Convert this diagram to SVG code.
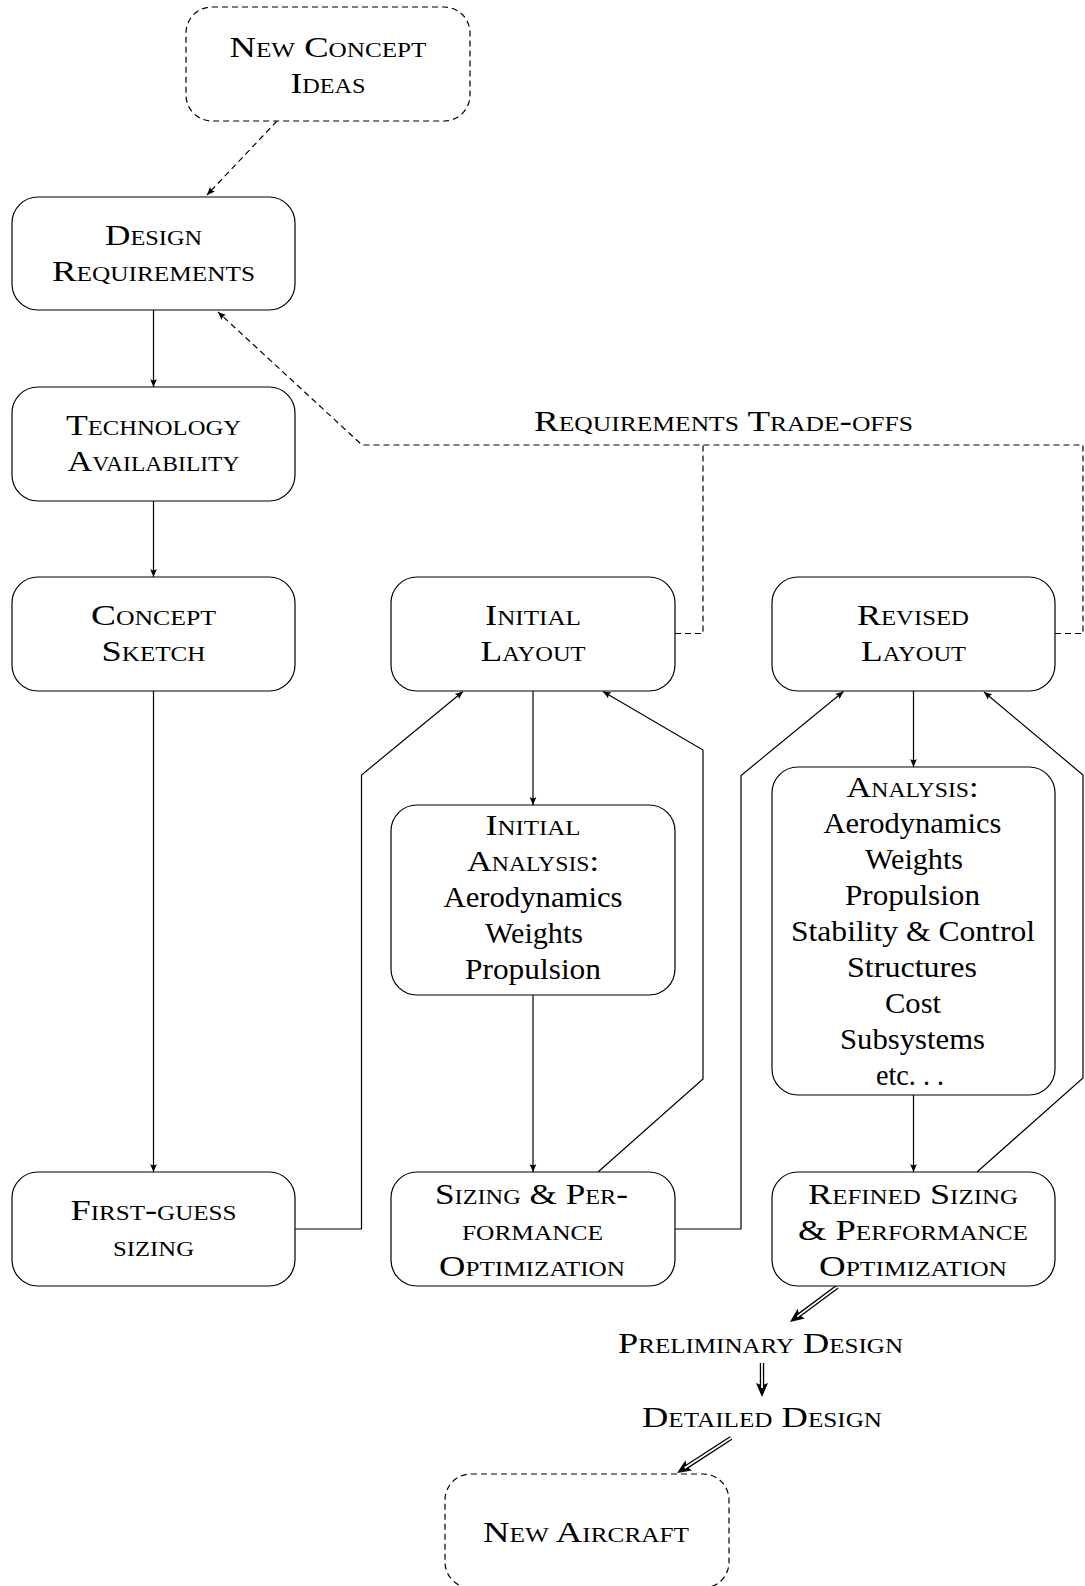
<svg xmlns="http://www.w3.org/2000/svg" width="1085" height="1586" viewBox="0 0 1085 1586">
  <style>
    .box { fill: #fff; stroke: #000; stroke-width: 1.2; }
    .dbox { fill: #fff; stroke: #000; stroke-width: 1.2; stroke-dasharray: 6 4; }
    .sc { font-family: 'Liberation Serif', serif; font-size: 29px; font-variant: small-caps; text-anchor: middle; fill: #000; }
    .rm { font-family: 'Liberation Serif', serif; font-size: 29px; text-anchor: middle; fill: #000; }
    .edge { fill: none; stroke: #000; stroke-width: 1.2; }
    .dash { fill: none; stroke: #000; stroke-width: 1.2; stroke-dasharray: 6 4; }
    .dbl-o { fill: none; stroke: #000; stroke-width: 4.4; }
    .dbl-i { fill: none; stroke: #fff; stroke-width: 1.8; }
  </style>
  <defs>
    <marker id="arr" markerUnits="userSpaceOnUse" viewBox="-9 -5 10 10" refX="0" refY="0" markerWidth="10" markerHeight="10" orient="auto">
      <path d="M0,0 L-8,-3.4 Q-5.5,0 -8,3.4 Z" fill="#000"/>
    </marker>
    <marker id="big" markerUnits="userSpaceOnUse" viewBox="-6 -7 16 14" refX="0" refY="0" markerWidth="16" markerHeight="14" orient="auto">
      <path d="M9,0 L-5,-6 Q-1.5,0 -5,6 Z" fill="#000"/>
    </marker>
  </defs>

  <rect width="1085" height="1586" fill="#fff"/>

  <!-- connectors -->
  <g id="connectors">
    <path class="dash" d="M277,121 L207,195" marker-end="url(#arr)"/>
    <path class="edge" d="M153.5,310 V387" marker-end="url(#arr)"/>
    <path class="edge" d="M153.5,501 V577" marker-end="url(#arr)"/>
    <path class="edge" d="M153.5,691 V1172" marker-end="url(#arr)"/>
    <path class="edge" d="M295,1229 H361.5 V775 L463,691.5" marker-end="url(#arr)"/>
    <path class="edge" d="M533,691 V805" marker-end="url(#arr)"/>
    <path class="edge" d="M533,995 V1172" marker-end="url(#arr)"/>
    <path class="edge" d="M598,1172 L703,1079 V750 L603,691.5" marker-end="url(#arr)"/>
    <path class="edge" d="M675,1229 H741 V775.5 L843.5,691.5" marker-end="url(#arr)"/>
    <path class="edge" d="M913.5,691 V767" marker-end="url(#arr)"/>
    <path class="edge" d="M913.5,1095 V1172" marker-end="url(#arr)"/>
    <path class="edge" d="M977,1172 L1083,1078 V775 L984,692" marker-end="url(#arr)"/>
    <!-- requirements trade-off feedback -->
    <path class="dash" d="M675,633.5 H703 V445 M1055,633.5 H1083 V445 H362 L218,312" marker-end="url(#arr)"/>
    <!-- double arrows toward the final design -->
    <path class="dbl-o" d="M837,1287 L797.2,1316.6" marker-end="url(#big)"/>
    <path class="dbl-i" d="M837,1287 L797.2,1316.6"/>
    <path class="dbl-o" d="M762,1363 V1388" marker-end="url(#big)"/>
    <path class="dbl-i" d="M762,1363 V1388"/>
    <path class="dbl-o" d="M731,1438 L684.6,1468.1" marker-end="url(#big)"/>
    <path class="dbl-i" d="M731,1438 L684.6,1468.1"/>
    <text class="sc" x="723.5" y="431" textLength="379" lengthAdjust="spacingAndGlyphs">Requirements Trade-offs</text>
  </g>

  <g id="new-concept-ideas">
    <rect class="dbox" x="186" y="7" width="284" height="114" rx="26"/>
    <text class="sc" x="328" y="57" textLength="197" lengthAdjust="spacingAndGlyphs">New Concept</text>
    <text class="sc" x="328" y="93" textLength="75" lengthAdjust="spacingAndGlyphs">Ideas</text>
  </g>

  <g id="design-requirements">
    <rect class="box" x="12" y="197" width="283" height="113" rx="26"/>
    <text class="sc" x="153.5" y="244.5" textLength="97" lengthAdjust="spacingAndGlyphs">Design</text>
    <text class="sc" x="153.5" y="280.5" textLength="203" lengthAdjust="spacingAndGlyphs">Requirements</text>
  </g>

  <g id="technology-availability">
    <rect class="box" x="12" y="387" width="283" height="114" rx="26"/>
    <text class="sc" x="153.5" y="435" textLength="175" lengthAdjust="spacingAndGlyphs">Technology</text>
    <text class="sc" x="153.5" y="471" textLength="172" lengthAdjust="spacingAndGlyphs">Availability</text>
  </g>

  <g id="concept-sketch">
    <rect class="box" x="12" y="577" width="283" height="114" rx="26"/>
    <text class="sc" x="153.5" y="625" textLength="125" lengthAdjust="spacingAndGlyphs">Concept</text>
    <text class="sc" x="153.5" y="661" textLength="104" lengthAdjust="spacingAndGlyphs">Sketch</text>
  </g>

  <g id="first-guess-sizing">
    <rect class="box" x="12" y="1172" width="283" height="114" rx="26"/>
    <text class="sc" x="153.5" y="1220" textLength="166" lengthAdjust="spacingAndGlyphs">First-guess</text>
    <text class="sc" x="153.5" y="1256" textLength="81" lengthAdjust="spacingAndGlyphs">sizing</text>
  </g>

  <g id="initial-layout">
    <rect class="box" x="391" y="577" width="284" height="114" rx="26"/>
    <text class="sc" x="533" y="625" textLength="96" lengthAdjust="spacingAndGlyphs">Initial</text>
    <text class="sc" x="533" y="661" textLength="105" lengthAdjust="spacingAndGlyphs">Layout</text>
  </g>

  <g id="initial-analysis">
    <rect class="box" x="391" y="805" width="284" height="190" rx="26"/>
    <text class="sc" x="533" y="835" textLength="95" lengthAdjust="spacingAndGlyphs">Initial</text>
    <text class="sc" x="533" y="871" textLength="132" lengthAdjust="spacingAndGlyphs">Analysis:</text>
    <text class="rm" x="533" y="907" textLength="179" lengthAdjust="spacingAndGlyphs">Aerodynamics</text>
    <text class="rm" x="534" y="943" textLength="98" lengthAdjust="spacingAndGlyphs">Weights</text>
    <text class="rm" x="533" y="979" textLength="136" lengthAdjust="spacingAndGlyphs">Propulsion</text>
  </g>

  <g id="sizing-performance">
    <rect class="box" x="391" y="1172" width="284" height="114" rx="26"/>
    <text class="sc" x="531.5" y="1204" textLength="193" lengthAdjust="spacingAndGlyphs">Sizing &amp; Per-</text>
    <text class="sc" x="532.5" y="1240" textLength="141" lengthAdjust="spacingAndGlyphs">formance</text>
    <text class="sc" x="532" y="1276" textLength="186" lengthAdjust="spacingAndGlyphs">Optimization</text>
  </g>

  <g id="revised-layout">
    <rect class="box" x="772" y="577" width="283" height="114" rx="26"/>
    <text class="sc" x="913" y="625" textLength="112" lengthAdjust="spacingAndGlyphs">Revised</text>
    <text class="sc" x="913.5" y="661" textLength="105" lengthAdjust="spacingAndGlyphs">Layout</text>
  </g>

  <g id="revised-analysis">
    <rect class="box" x="772" y="767" width="283" height="328" rx="26"/>
    <text class="sc" x="912.5" y="797" textLength="132" lengthAdjust="spacingAndGlyphs">Analysis:</text>
    <text class="rm" x="912.5" y="833" textLength="178" lengthAdjust="spacingAndGlyphs">Aerodynamics</text>
    <text class="rm" x="914" y="869" textLength="98" lengthAdjust="spacingAndGlyphs">Weights</text>
    <text class="rm" x="912.5" y="905" textLength="135" lengthAdjust="spacingAndGlyphs">Propulsion</text>
    <text class="rm" x="913" y="941" textLength="244" lengthAdjust="spacingAndGlyphs">Stability &amp; Control</text>
    <text class="rm" x="912" y="977" textLength="130" lengthAdjust="spacingAndGlyphs">Structures</text>
    <text class="rm" x="913" y="1013" textLength="56" lengthAdjust="spacingAndGlyphs">Cost</text>
    <text class="rm" x="912.5" y="1049" textLength="145" lengthAdjust="spacingAndGlyphs">Subsystems</text>
    <text class="rm" x="910" y="1085" textLength="68" lengthAdjust="spacingAndGlyphs">etc. . .</text>
  </g>

  <g id="refined-sizing">
    <rect class="box" x="772" y="1172" width="283" height="114" rx="26"/>
    <text class="sc" x="913" y="1204" textLength="210" lengthAdjust="spacingAndGlyphs">Refined Sizing</text>
    <text class="sc" x="913" y="1240" textLength="230" lengthAdjust="spacingAndGlyphs">&amp; Performance</text>
    <text class="sc" x="913" y="1276" textLength="188" lengthAdjust="spacingAndGlyphs">Optimization</text>
  </g>

  <g id="preliminary-design">
    <text class="sc" x="760.5" y="1353" textLength="285" lengthAdjust="spacingAndGlyphs">Preliminary Design</text>
  </g>

  <g id="detailed-design">
    <text class="sc" x="762" y="1427" textLength="240" lengthAdjust="spacingAndGlyphs">Detailed Design</text>
  </g>

  <g id="new-aircraft">
    <rect class="dbox" x="445" y="1474" width="284" height="114" rx="26"/>
    <text class="sc" x="586" y="1542" textLength="206" lengthAdjust="spacingAndGlyphs">New Aircraft</text>
  </g>
</svg>
